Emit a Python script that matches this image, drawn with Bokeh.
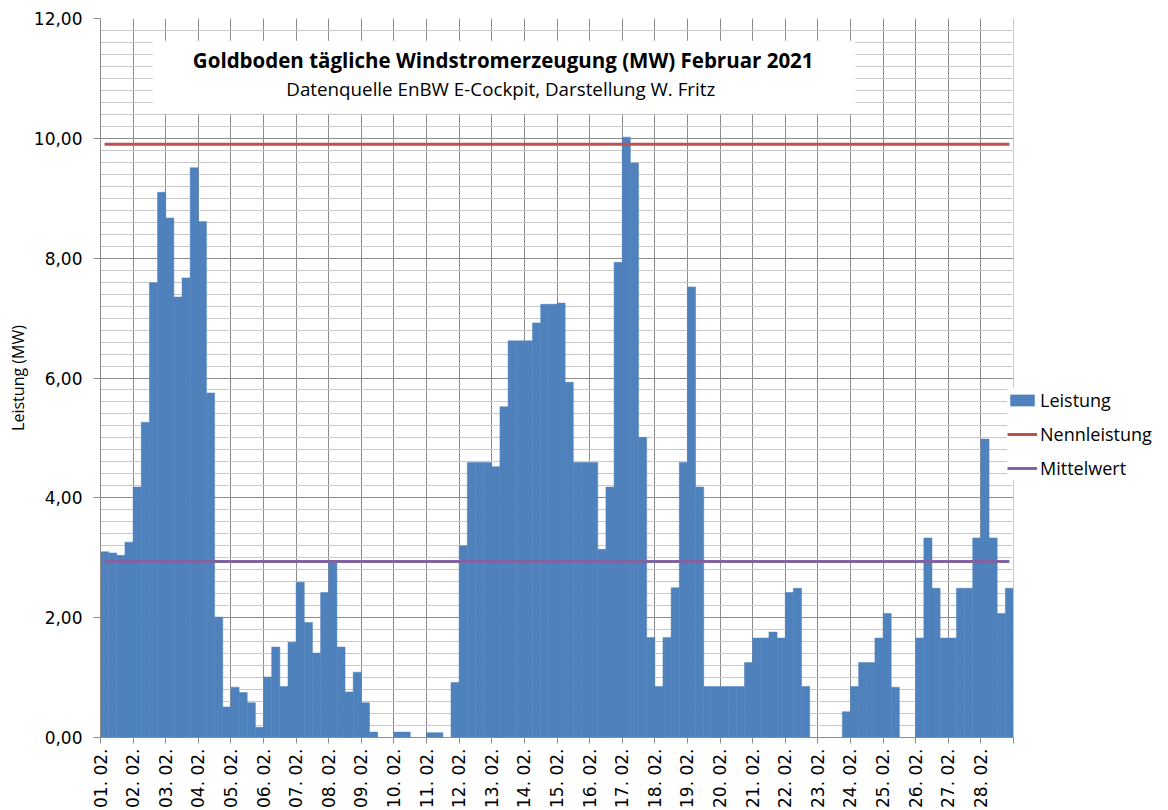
from bokeh.plotting import figure
from bokeh.models import (FixedTicker, Legend, LegendItem, BoxAnnotation, Label,
                          Range1d, CustomJSTickFormatter, ColumnDataSource)
from bokeh.embed import file_html
from bokeh.resources import INLINE
import numpy as np

# ---- data (MW, four 6-hour values per day) ----
tage = ["01. 02.", "02. 02.", "03. 02.", "04. 02.", "05. 02.", "06. 02.", "07. 02.",
        "08. 02.", "09. 02.", "10. 02.", "11. 02.", "12. 02.", "13. 02.", "14. 02.",
        "15. 02.", "16. 02.", "17. 02.", "18. 02.", "19. 02.", "20. 02.", "21. 02.",
        "22. 02.", "23. 02.", "24. 02.", "25. 02.", "26. 02.", "27. 02.", "28. 02."]

leistung = [
    3.10, 3.08, 3.04, 3.26,
    4.18, 5.26, 7.59, 9.10,
    8.67, 7.35, 7.67, 9.51,
    8.61, 5.75, 2.01, 0.51,
    0.84, 0.75, 0.58, 0.17,
    1.01, 1.51, 0.85, 1.59,
    2.59, 1.92, 1.41, 2.42,
    2.93, 1.51, 0.76, 1.09,
    0.58, 0.09, 0.00, 0.00,
    0.09, 0.09, 0.00, 0.00,
    0.08, 0.08, 0.00, 0.92,
    3.20, 4.59, 4.59, 4.59,
    4.52, 5.52, 6.62, 6.62,
    6.62, 6.92, 7.23, 7.23,
    7.25, 5.93, 4.59, 4.59,
    4.59, 3.14, 4.18, 7.93,
    10.02, 9.59, 5.01, 1.67,
    0.85, 1.67, 2.50, 4.59,
    7.52, 4.18, 0.85, 0.85,
    0.85, 0.85, 0.85, 1.25,
    1.66, 1.66, 1.76, 1.66,
    2.42, 2.49, 0.85, 0.00,
    0.00, 0.00, 0.00, 0.43,
    0.85, 1.25, 1.25, 1.66,
    2.07, 0.84, 0.00, 0.00,
    1.66, 3.33, 2.49, 1.66,
    1.66, 2.49, 2.49, 3.33,
    4.98, 3.33, 2.07, 2.49,
]
nennleistung = 9.90
werte_pro_tag = 4

titel = "Goldboden tägliche Windstromerzeugung (MW) Februar 2021"
untertitel = "Datenquelle EnBW E-Cockpit, Darstellung  W. Fritz"

# ---- derived ----
n = len(leistung)
x = np.arange(n) + 0.5
mittelwert = float(np.mean(leistung))
src = ColumnDataSource(dict(x=x, top=leistung,
                            nenn=[nennleistung] * n, mittel=[mittelwert] * n))

BLUE = "#4f81bd"
RED = "#c0504d"
PURPLE = "#8064a2"
GRID = "#8c8c8c"
MINOR = "#c8c8c8"
FONT = "Open Sans"
TICKFONT = "DejaVu Sans"

# layout
W, H = 1165, 810
LEFT, TOP, BOTTOM = 100, 18, 73
CHART_W = 913                      # px covered by the 28 days
x_end = n * (W - LEFT) / CHART_W   # frame continues right for the legend

p = figure(width=W, height=H, output_backend="svg", toolbar_location=None,
           x_range=Range1d(0, x_end), y_range=Range1d(0, 12),
           min_border_left=LEFT, min_border_right=0, min_border_top=TOP,
           min_border_bottom=BOTTOM)
p.outline_line_color = None
p.background_fill_color = "white"

bars = p.vbar(x="x", top="top", width=1.0, source=src,
              fill_color=BLUE, line_color=BLUE, line_width=0.5)
l_nenn = p.line("x", "nenn", source=src, line_color=RED, line_width=3)
l_mit = p.line("x", "mittel", source=src, line_color=PURPLE, line_width=3)

# ---- x axis ----
day_ticks = list(range(0, n, werte_pro_tag))
xa = p.xaxis[0]
xa.ticker = FixedTicker(ticks=day_ticks + [n])
xa.bounds = (0, n)
xa.formatter = CustomJSTickFormatter(
    args=dict(labels=tage, step=werte_pro_tag),
    code="const i = Math.round(tick / step); return i < labels.length ? labels[i] : '';")
xa.major_label_orientation = np.pi / 2
xa.major_label_text_font = TICKFONT
xa.major_label_text_font_size = "17px"
xa.major_label_text_color = "black"
xa.major_label_standoff = 5
xa.axis_line_color = GRID
xa.major_tick_line_color = GRID
xa.major_tick_out = 6
xa.major_tick_in = 0
xa.minor_tick_line_color = None

# ---- y axis ----
major_y = [0, 2, 4, 6, 8, 10, 12]
minor_y = [round(i * 0.2, 2) for i in range(61) if i % 10 != 0]
ya = p.yaxis[0]
ya.ticker = FixedTicker(ticks=major_y, minor_ticks=minor_y)
ya.formatter = CustomJSTickFormatter(code="return tick.toFixed(2).replace('.', ',');")
ya.major_label_text_font = TICKFONT
ya.major_label_text_font_size = "17px"
ya.major_label_text_color = "black"
ya.major_label_standoff = 11
ya.axis_line_color = GRID
ya.major_tick_line_color = GRID
ya.major_tick_out = 7
ya.major_tick_in = 0
ya.minor_tick_line_color = None
ya.axis_label = "Leistung (MW)"
ya.axis_label_text_font = FONT
ya.axis_label_text_font_style = "normal"
ya.axis_label_text_font_size = "16px"
ya.axis_label_text_color = "black"
ya.axis_label_standoff = 2

p.xgrid.grid_line_color = GRID
p.ygrid.grid_line_color = GRID
p.ygrid.minor_grid_line_color = MINOR

# blank the area right of the chart (legend area)
p.add_layout(BoxAnnotation(left=n, fill_color="white", fill_alpha=1.0, line_color=None))

# ---- title box ----
p.add_layout(BoxAnnotation(left=6.4, right=92.6, bottom=10.41, top=11.63,
                           fill_color="white", fill_alpha=1.0, line_color=None))
p.add_layout(Label(x=49.4, y=11.30, text=titel, text_align="center",
                   text_baseline="middle", text_font=FONT, text_font_style="bold",
                   text_font_size="20.5px", text_color="black"))
p.add_layout(Label(x=49.4, y=10.83, text=untertitel, text_align="center",
                   text_baseline="middle", text_font=FONT,
                   text_font_size="18.8px", text_color="black"))

# ---- legend ----
legend = Legend(items=[LegendItem(label="Leistung", renderers=[bars]),
                       LegendItem(label="Nennleistung", renderers=[l_nenn]),
                       LegendItem(label="Mittelwert", renderers=[l_mit])],
                location=(CHART_W - 6, 257), border_line_color=None,
                background_fill_color="white", background_fill_alpha=1.0,
                label_text_font=FONT, label_text_font_size="18px",
                label_text_color="black",
                glyph_width=30, glyph_height=14, label_height=20,
                spacing=10, padding=4, margin=0, label_standoff=3)
p.add_layout(legend)

open("out.html", "w").write(file_html(p, INLINE))
